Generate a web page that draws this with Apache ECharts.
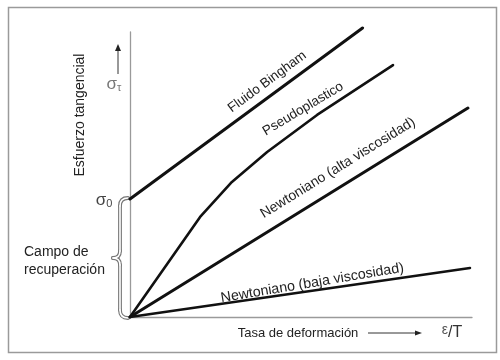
<!DOCTYPE html>
<html><head><meta charset="utf-8">
<script src="https://cdn.jsdelivr.net/npm/echarts@6/dist/echarts.min.js"></script>
<style>html,body{margin:0;padding:0;background:#fff}#c{width:500px;height:360px}</style>
</head><body><div id="c"></div>
<script>
// Data (arbitrary units: x = tasa de deformación 0..100, y = esfuerzo 0..100)
const binghamX = [0, 68];
const binghamY = [41.4, 101.4];
const pseudoX = [0, 20.5, 29.8, 40.1, 54.7, 76.9];
const pseudoY = [0, 35.1, 47.4, 57.9, 70.9, 88.4];
const altaX = [0, 98.8];
const altaY = [0, 73.3];
const bajaX = [0, 99.4];
const bajaY = [0, 17.2];
const seriesNames = ['Fluido Bingham', 'Pseudoplastico', 'Newtoniano (alta viscosidad)', 'Newtoniano (baja viscosidad)'];
const labelX = [40.1, 50.6, 60.8, 53.3];
const labelY = [82.5, 73.0, 52.3, 11.9];
const labelAngle = [36.5, 31, 31.7, 9.5];
const yieldStress = 41.4;
const yTitle = 'Esfuerzo tangencial';
const xTitle = 'Tasa de deformación';
const braceTitle = ['Campo de', 'recuperación'];

const FONT = '"Liberation Sans", Arial, sans-serif';
const zip = (xs, ys) => xs.map((x, i) => [x, ys[i]]);
const seriesData = [zip(binghamX, binghamY), zip(pseudoX, pseudoY), zip(altaX, altaY), zip(bajaX, bajaY)];
const widths = [3, 2.6, 3, 2.6];
const labelSizes = [13.5, 13.5, 14, 14.2];

const chart = echarts.init(document.getElementById('c'), null, {renderer: 'canvas'});
chart.setOption({
  animation: false,
  backgroundColor: '#fff',
  grid: {left: 130, right: 28, top: 32, bottom: 43},
  xAxis: {type: 'value', min: 0, max: 100,
    axisLine: {show: true, lineStyle: {color: '#9a9a9a', width: 1.3}},
    axisTick: {show: false}, axisLabel: {show: false}, splitLine: {show: false}},
  yAxis: {type: 'value', min: 0, max: 100, offset: 2,
    axisLine: {show: true, lineStyle: {color: '#9a9a9a', width: 1.3}},
    axisTick: {show: false}, axisLabel: {show: false}, splitLine: {show: false}},
  series: seriesData.map((d, i) => ({
    name: seriesNames[i], type: 'line', data: d, symbol: 'none', clip: false,
    lineStyle: {color: '#111', width: widths[i], cap: 'round', join: 'round'}
  }))
});

const px = (x, y) => chart.convertToPixel({gridIndex: 0}, [x, y]);
const g = [];
// outer frame
g.push({type: 'rect', shape: {x: 8.5, y: 7.5, width: 488, height: 345}, style: {fill: 'none', stroke: '#9a9a9a', lineWidth: 1.5}, silent: true});
// line labels
seriesNames.forEach((t, i) => {
  const p = px(labelX[i], labelY[i]);
  g.push({type: 'text', x: p[0], y: p[1], rotation: labelAngle[i] * Math.PI / 180,
    style: {text: t, fill: '#222', fontSize: labelSizes[i], fontFamily: FONT, align: 'center', verticalAlign: 'middle'}});
});
// y title
g.push({type: 'text', x: 80, y: 115, rotation: Math.PI / 2,
  style: {text: yTitle, fill: '#222', fontSize: 14, fontFamily: FONT, align: 'center', verticalAlign: 'middle'}});
// sigma tau + arrow
g.push({type: 'text', x: 114, y: 84, style: {text: '{a|σ}{b|τ}', fontFamily: FONT, align: 'center', verticalAlign: 'middle',
  rich: {a: {fontSize: 17, fill: '#777', fontFamily: FONT}, b: {fontSize: 11, fill: '#777', fontFamily: FONT, padding: [8, 0, 0, 0]}}}});
g.push({type: 'line', shape: {x1: 118, y1: 74, x2: 118, y2: 50}, style: {stroke: '#333', lineWidth: 1}});
g.push({type: 'polygon', shape: {points: [[118, 44], [115, 51], [121, 51]]}, style: {fill: '#222'}});
// sigma 0
const y0 = px(0, yieldStress)[1];
const yO = px(0, 0)[1];
g.push({type: 'text', x: 104, y: y0 + 1, style: {text: '{a|σ}{b|0}', fontFamily: FONT, align: 'center', verticalAlign: 'middle',
  rich: {a: {fontSize: 17, fill: '#444', fontFamily: FONT}, b: {fontSize: 11, fill: '#444', fontFamily: FONT, padding: [8, 0, 0, 0]}}}});
// brace (outlined: thick grey then thin white)
const mid = (y0 + yO) / 2;
const braceParts = [
  {type: 'bezierCurve', shape: {x1: 128, y1: y0 - 1, cpx1: 120, cpy1: y0 - 1, x2: 120, y2: y0 + 7}},
  {type: 'line', shape: {x1: 120, y1: y0 + 7, x2: 120, y2: mid - 7}},
  {type: 'bezierCurve', shape: {x1: 120, y1: mid - 7, cpx1: 120, cpy1: mid, x2: 113, y2: mid}},
  {type: 'bezierCurve', shape: {x1: 113, y1: mid, cpx1: 120, cpy1: mid, x2: 120, y2: mid + 7}},
  {type: 'line', shape: {x1: 120, y1: mid + 7, x2: 120, y2: yO - 7}},
  {type: 'bezierCurve', shape: {x1: 120, y1: yO - 7, cpx1: 120, cpy1: yO + 1, x2: 128, y2: yO + 1}}
];
braceParts.forEach(p => g.push({type: p.type, shape: p.shape, style: {fill: 'none', stroke: '#777', lineWidth: 3.8, lineCap: 'round'}}));
braceParts.forEach(p => g.push({type: p.type, shape: p.shape, style: {fill: 'none', stroke: '#fff', lineWidth: 1.6, lineCap: 'round'}}));
// brace title
g.push({type: 'text', x: 24, y: mid + 3, style: {text: braceTitle.join('\n'), fill: '#222', fontSize: 14, lineHeight: 18, fontFamily: FONT, align: 'left', verticalAlign: 'middle'}});
// x title + arrow
g.push({type: 'text', x: 298, y: 333, style: {text: xTitle, fill: '#222', fontSize: 13, fontFamily: FONT, align: 'center', verticalAlign: 'middle'}});
g.push({type: 'line', shape: {x1: 368, y1: 333, x2: 416, y2: 333}, style: {stroke: '#333', lineWidth: 1}});
g.push({type: 'polygon', shape: {points: [[422, 333], [415, 330.5], [415, 335.5]]}, style: {fill: '#222'}});
g.push({type: 'text', x: 452, y: 333, style: {text: '{a|ε}{b|/T}', fontFamily: FONT, align: 'center', verticalAlign: 'middle',
  rich: {a: {fontSize: 14, fill: '#555', fontFamily: FONT, padding: [0, 0, 5, 0]}, b: {fontSize: 16, fill: '#333', fontFamily: FONT}}}});

chart.setOption({graphic: {elements: g}});
</script>
</body></html>
